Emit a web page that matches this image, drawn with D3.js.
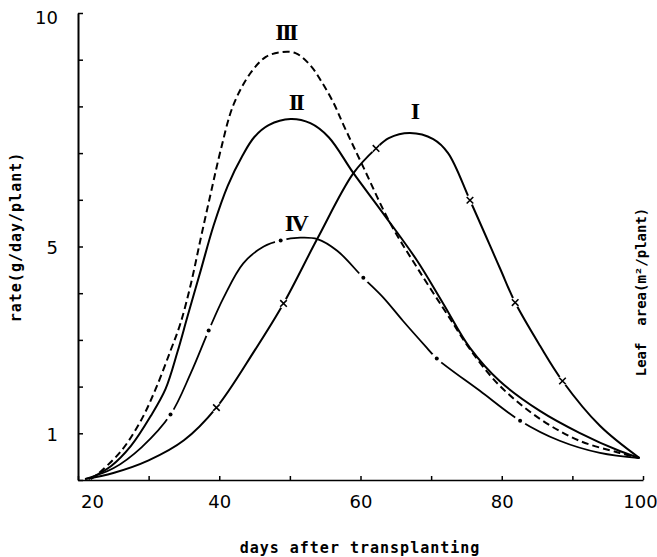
<!DOCTYPE html>
<html>
<head>
<meta charset="utf-8">
<script src="https://cdn.jsdelivr.net/npm/d3@7"></script>
<style>
	body { margin: 0; background: #fff; }
	svg { display: block; background: #fff; }
</style>
</head>
<body>
<div id="chart"></div>
<script>
// tick values and labels
const xTicks = [20, 30, 40, 50, 60, 70, 80, 90, 100];
const xTickLabels = [20, 40, 60, 80, 100];
const yTicks = [0, 1, 2, 3, 4, 5, 6, 7, 8, 9, 10];
const yTickLabels = [1, 5, 10];

// curves: [day, value]
const curveI = [[21, 0.02], [25, 0.15], [30, 0.42], [35, 0.85], [39.6, 1.55], [45, 2.77], [49.1, 3.78], [53.9, 5.17], [59, 6.57], [62.2, 7.1], [64, 7.32], [67, 7.43], [70.3, 7.3], [72.4, 7.0], [75.5, 5.99], [79.7, 4.55], [81.9, 3.8], [85.4, 2.88], [88.6, 2.12], [93.9, 1.16], [99.5, 0.47]];
const curveII = [[21.5, 0.02], [24.7, 0.3], [27.5, 0.73], [30.3, 1.37], [32.4, 1.95], [34.1, 2.75], [35.5, 3.5], [37.4, 4.5], [39.2, 5.45], [41.2, 6.3], [43.3, 6.95], [45, 7.35], [47, 7.6], [50.1, 7.73], [52.9, 7.64], [55.5, 7.34], [59, 6.57], [63.2, 5.71], [68, 4.7], [71.7, 3.78], [75.5, 2.83], [79.7, 2.12], [85.4, 1.48], [91, 1.01], [96.7, 0.62], [99.5, 0.47]];
const curveIII = [[21.8, 0.02], [22.5, 0.09], [26.1, 0.62], [28.9, 1.27], [31, 1.95], [33.1, 2.77], [34.5, 3.35], [36, 4.21], [37.4, 5.19], [38.8, 6.14], [40.2, 7.06], [42, 8.03], [44.4, 8.71], [46.6, 9.06], [48.7, 9.16], [50.8, 9.14], [52.9, 8.88], [54.6, 8.5], [56.2, 8.07], [57.6, 7.6], [60.4, 6.7], [64.2, 5.5], [68, 4.55], [72.7, 3.45], [75.5, 2.8], [79.7, 2.02], [85.4, 1.31], [91, 0.84], [96.7, 0.58], [99.5, 0.47]];
const curveIV = [[21, 0.02], [25, 0.25], [29, 0.7], [33.1, 1.4], [36, 2.3], [38.5, 3.2], [40.6, 3.9], [43.4, 4.64], [46.3, 5.0], [48.7, 5.13], [51.5, 5.19], [53.9, 5.16], [56.7, 4.91], [60.4, 4.33], [63.2, 3.91], [66, 3.41], [69.4, 2.83], [70.8, 2.6], [76.9, 1.91], [82.6, 1.27], [88.2, 0.84], [93.9, 0.58], [99.5, 0.47]];

// cross marks on I and dots on IV
const marksI = [[39.6, 1.55], [49.1, 3.78], [62.2, 7.1], [75.5, 5.99], [81.9, 3.8], [88.6, 2.12]];
const dotsIV = [[33.1, 1.4], [38.5, 3.2], [48.7, 5.13], [60.4, 4.33], [70.8, 2.6], [82.6, 1.27]];

// curve labels
const curveNames = ["I", "II", "III", "IV"];
const curveNamePos = [[67.6, 7.9], [50.8, 8.1], [49.4, 9.6], [50.8, 5.5]];

const w = 657;
const h = 557;

const xScale = d3.scaleLinear().domain([20, 100]).range([78, 643]);
const yScale = d3.scaleLinear().domain([0, 10]).range([480, 13]);

const svg = d3.select("#chart")
	.append("svg")
	.attr("width", w)
	.attr("height", h);

// Axes

const yAxis = d3.axisLeft(yScale)
	.tickValues(yTicks)
	.tickSizeInner(-5)
	.tickSizeOuter(0)
	.tickPadding(20)
	.tickFormat(d => yTickLabels.includes(d) ? d : "");

const gy = svg.append("g")
	.attr("transform", "translate(78,0)")
	.call(yAxis);
gy.select(".domain").attr("stroke-width", 2);
gy.selectAll(".tick line").attr("stroke-width", 1.5);
gy.selectAll(".tick text")
	.style("font-family", "DejaVu Sans")
	.style("font-size", "18px")
	.attr("fill", "#000")
	.attr("y", d => d === 10 ? 5 : 1);

const xAxis = d3.axisBottom(xScale)
	.tickValues(xTicks)
	.tickSizeInner(-4)
	.tickSizeOuter(0)
	.tickPadding(15)
	.tickFormat(d => xTickLabels.includes(d) ? d : "");

const gx = svg.append("g")
	.attr("transform", "translate(0,480)")
	.call(xAxis);
gx.select(".domain").attr("stroke-width", 1.6);
gx.selectAll(".tick line").attr("stroke-width", 1.5);
gx.selectAll(".tick text")
	.style("font-family", "DejaVu Sans")
	.style("font-size", "18px")
	.attr("fill", "#000")
	.attr("x", d => d === 20 ? 14 : (d === 100 ? -3 : 0));

// Curves

const line = d3.line()
	.x(d => xScale(d[0]))
	.y(d => yScale(d[1]))
	.curve(d3.curveCatmullRom.alpha(0.5));

svg.append("path")
	.datum(curveIII)
	.attr("d", line)
	.attr("fill", "none")
	.attr("stroke", "#000")
	.attr("stroke-width", 2)
	.attr("stroke-dasharray", "7,4");

svg.append("path")
	.datum(curveII)
	.attr("d", line)
	.attr("fill", "none")
	.attr("stroke", "#000")
	.attr("stroke-width", 2);

svg.append("path")
	.datum(curveIV)
	.attr("d", line)
	.attr("fill", "none")
	.attr("stroke", "#000")
	.attr("stroke-width", 1.8);

svg.append("path")
	.datum(curveI)
	.attr("d", line)
	.attr("fill", "none")
	.attr("stroke", "#000")
	.attr("stroke-width", 2);

// gaps and dots on IV
svg.selectAll(".gapIV")
	.data(dotsIV)
	.enter()
	.append("circle")
	.attr("class", "gapIV")
	.attr("cx", d => xScale(d[0]))
	.attr("cy", d => yScale(d[1]))
	.attr("r", 6)
	.attr("fill", "#fff");

svg.selectAll(".dotIV")
	.data(dotsIV)
	.enter()
	.append("circle")
	.attr("class", "dotIV")
	.attr("cx", d => xScale(d[0]))
	.attr("cy", d => yScale(d[1]))
	.attr("r", 2)
	.attr("fill", "#000");

// gaps and crosses on I
svg.selectAll(".gapI")
	.data(marksI)
	.enter()
	.append("circle")
	.attr("class", "gapI")
	.attr("cx", d => xScale(d[0]))
	.attr("cy", d => yScale(d[1]))
	.attr("r", 5)
	.attr("fill", "#fff");

svg.selectAll(".markI")
	.data(marksI)
	.enter()
	.append("path")
	.attr("class", "markI")
	.attr("d", d3.symbol(d3.symbolTimes, 30))
	.attr("transform", d => `translate(${xScale(d[0])},${yScale(d[1])})`)
	.attr("fill", "none")
	.attr("stroke", "#000")
	.attr("stroke-width", 1.6);

// curve names
svg.selectAll(".name")
	.data(curveNames)
	.enter()
	.append("text")
	.attr("class", "name")
	.text(d => d)
	.attr("x", (d, i) => xScale(curveNamePos[i][0]))
	.attr("y", (d, i) => yScale(curveNamePos[i][1]))
	.attr("text-anchor", "middle")
	.attr("dominant-baseline", "central")
	.style("font-family", "Liberation Serif")
	.style("font-weight", "bold")
	.style("font-size", "24px")
	.style("letter-spacing", "-2.5px");

// Titles

svg.append("text")
	.text("days after transplanting")
	.attr("x", 360)
	.attr("y", 553)
	.attr("text-anchor", "middle")
	.style("font-family", "DejaVu Sans Mono")
	.style("font-weight", "bold")
	.style("font-size", "15px")
	.style("letter-spacing", "1px");

svg.append("text")
	.text("rate(g/day/plant)")
	.attr("transform", "translate(21,237) rotate(-90)")
	.attr("text-anchor", "middle")
	.style("font-family", "DejaVu Sans Mono")
	.style("font-weight", "bold")
	.style("font-size", "15px")
	.style("letter-spacing", "1px");

svg.append("text")
	.text("Leaf  area(m²/plant)")
	.attr("transform", "translate(646,292) rotate(-90)")
	.attr("text-anchor", "middle")
	.style("white-space", "pre")
	.style("font-family", "DejaVu Sans Mono")
	.style("font-weight", "bold")
	.style("font-size", "14px");
</script>
</body>
</html>
